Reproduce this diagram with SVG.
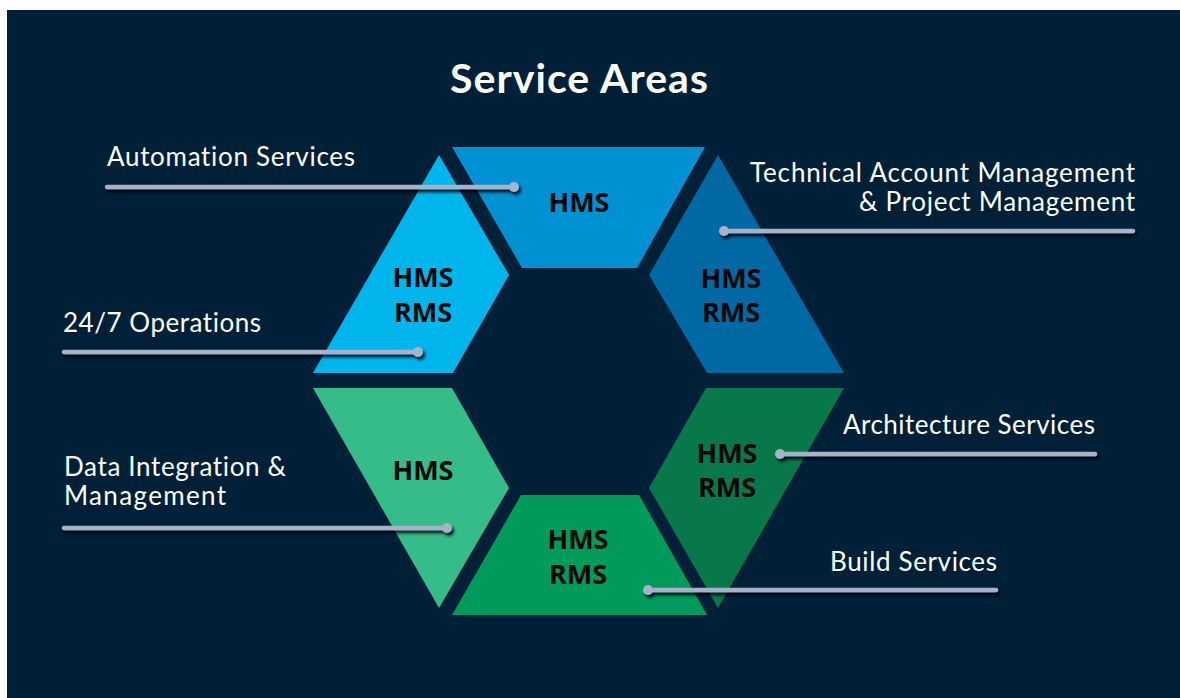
<svg xmlns="http://www.w3.org/2000/svg" width="1180" height="698" viewBox="0 0 1180 698">
  <defs>
    <style>
      .title { font-family: Lato, "Open Sans", "Liberation Sans", sans-serif; font-weight: 700; font-size: 41px; fill: #ffffff; }
      .label { font-family: Lato, "Open Sans", "Liberation Sans", sans-serif; font-size: 26px; fill: #ffffff; font-variant-ligatures: none; }
      .seg-text { font-family: "Open Sans", "Noto Sans", "Liberation Sans", sans-serif; font-weight: 700; font-size: 27px; fill: #050505; text-anchor: middle; }
      .conn line { stroke: #A6B2C8; stroke-width: 4.5; stroke-linecap: round; }
      .conn circle { fill: #A6B2C8; }
    </style>
    <filter id="shadow" x="-10%" y="-100%" width="120%" height="300%">
      <feDropShadow dx="2" dy="3" stdDeviation="1.5" flood-color="#000010" flood-opacity="0.85"/>
    </filter>
  </defs>

  <rect x="0" y="0" width="1180" height="698" fill="#ffffff"/>
  <rect x="7" y="10" width="1173" height="688" fill="#002038"/>

  <text class="title" x="450" y="93" textLength="258" lengthAdjust="spacing">Service Areas</text>

  <g id="seg-top">
    <polygon points="452,147 705,147 637,268 522,268" fill="#0091D2"/>
    <text class="seg-text" x="579" y="212">HMS</text>
  </g>
  <g id="seg-upper-left">
    <polygon points="439,155 509,275 453,373 313,373" fill="#00B4EC"/>
    <text class="seg-text" x="423" y="287">HMS</text>
    <text class="seg-text" x="423" y="322">RMS</text>
  </g>
  <g id="seg-upper-right">
    <polygon points="718,155 844,373 707,373 649,275" fill="#0068A2"/>
    <text class="seg-text" x="731" y="288">HMS</text>
    <text class="seg-text" x="731" y="322">RMS</text>
  </g>
  <g id="seg-lower-left">
    <polygon points="313,388 452,388 509,488 439,608" fill="#36BC88"/>
    <text class="seg-text" x="423" y="480">HMS</text>
  </g>
  <g id="seg-lower-right">
    <polygon points="706,388 844,388 718,608 649,488" fill="#08784A"/>
    <text class="seg-text" x="727" y="463">HMS</text>
    <text class="seg-text" x="727" y="497">RMS</text>
  </g>
  <g id="seg-bottom">
    <polygon points="521,495 639,495 707,615 452,615" fill="#009A5B"/>
    <text class="seg-text" x="578" y="549">HMS</text>
    <text class="seg-text" x="578" y="584">RMS</text>
  </g>

  <g id="connectors" class="conn" filter="url(#shadow)">
    <line x1="107" y1="187" x2="514" y2="187"/><circle cx="514" cy="187" r="5"/>
    <line x1="64" y1="352" x2="418" y2="352"/><circle cx="418" cy="352" r="5"/>
    <line x1="64" y1="528" x2="447" y2="528"/><circle cx="447" cy="528" r="5"/>
    <line x1="724" y1="231" x2="1133" y2="231"/><circle cx="724" cy="231" r="5"/>
    <line x1="780" y1="454" x2="1095" y2="454"/><circle cx="780" cy="454" r="5"/>
    <line x1="648" y1="590" x2="996" y2="590"/><circle cx="648" cy="590" r="5"/>
  </g>

  <g id="label-automation">
    <text class="label" x="107" y="166" textLength="248" lengthAdjust="spacing">Automation Services</text>
  </g>
  <g id="label-operations">
    <text class="label" x="63" y="332" textLength="198" lengthAdjust="spacing">24/7 Operations</text>
  </g>
  <g id="label-data">
    <text class="label" x="64" y="476" textLength="222" lengthAdjust="spacing">Data Integration &amp;</text>
    <text class="label" x="64" y="505" textLength="162" lengthAdjust="spacing">Management</text>
  </g>
  <g id="label-tam">
    <text class="label" x="750" y="182" textLength="385" lengthAdjust="spacing">Technical Account Management</text>
    <text class="label" x="859" y="211" textLength="276" lengthAdjust="spacing">&amp; Project Management</text>
  </g>
  <g id="label-architecture">
    <text class="label" x="843" y="434" textLength="252" lengthAdjust="spacing">Architecture Services</text>
  </g>
  <g id="label-build">
    <text class="label" x="830" y="571" textLength="167" lengthAdjust="spacing">Build Services</text>
  </g>
</svg>
